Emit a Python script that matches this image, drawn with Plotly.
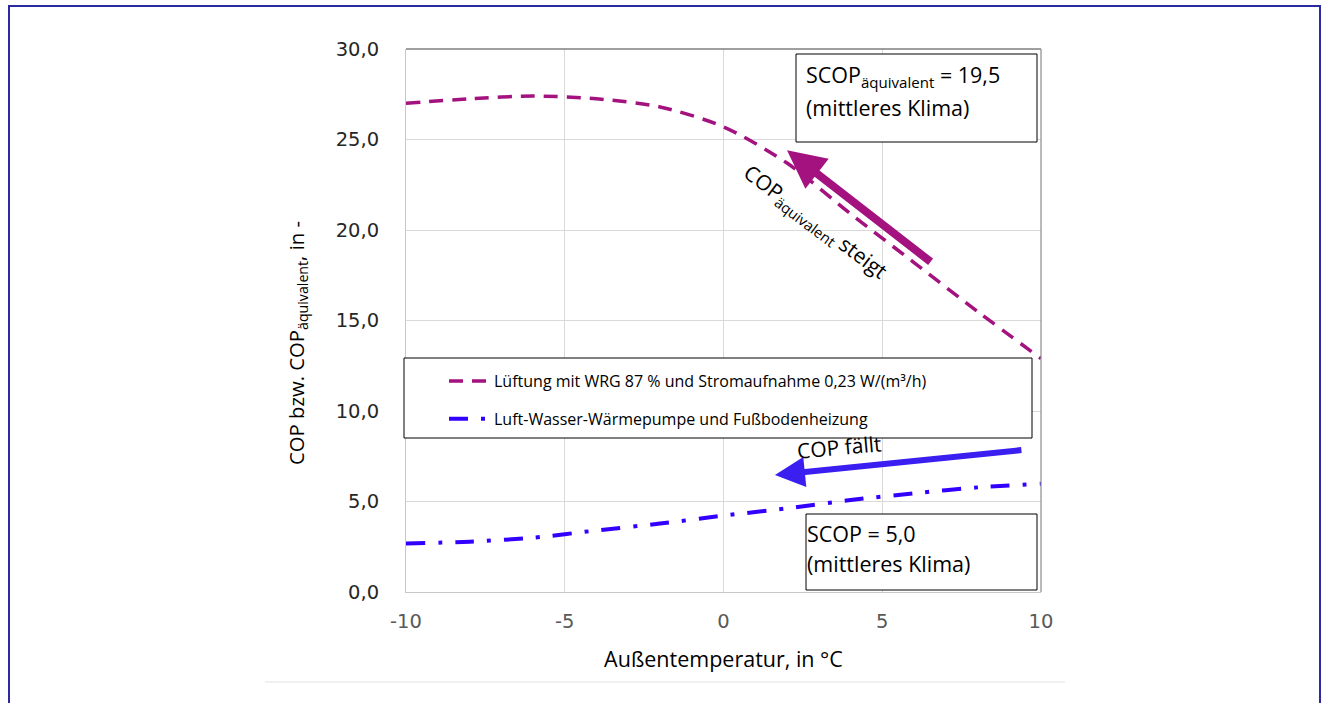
import plotly.graph_objects as go

# ---- data ----
temps = [-10, -8, -6, -4, -2, 0, 2, 4, 6, 8, 10]
cop_lueftung = [27.0, 27.25, 27.4, 27.25, 26.8, 25.7, 23.7, 20.9, 18.2, 15.5, 12.9]
cop_wp = [2.68, 2.78, 3.0, 3.4, 3.78, 4.22, 4.62, 5.08, 5.45, 5.78, 5.98]

name_lueftung = "Lüftung mit WRG 87 % und Stromaufnahme 0,23 W/(m³/h)"
name_wp = "Luft-Wasser-Wärmepumpe und Fußbodenheizung"

x_ticks = [-10, -5, 0, 5, 10]
y_ticks = [0, 5, 10, 15, 20, 25, 30]
y_ticklabels = ["0,0", "5,0", "10,0", "15,0", "20,0", "25,0", "30,0"]

PINK = "#a3127f"
BLUE = "#3300ff"
BLUE_ARROW = "#3a1ff0"
TXT_FONT = "Open Sans, sans-serif"
TICK_FONT = "DejaVu Sans, sans-serif"

fig = go.Figure()
fig.add_trace(go.Scatter(
    x=temps, y=cop_lueftung, mode="lines", name=name_lueftung,
    line=dict(color=PINK, width=3.5, dash="14px,9px", shape="spline", smoothing=0.8),
    legendgroup="a",
))
fig.add_trace(go.Scatter(
    x=temps, y=cop_wp, mode="lines", name=name_wp,
    line=dict(color=BLUE, width=4, dash="19px,13px,4px,13px", shape="spline", smoothing=0.8),
    legendgroup="b",
))

L, R, T, B = 406, 1041, 49, 592
W, H = 1325, 703
pw, ph = R - L, B - T


def px2paper_x(px):
    return (px - L) / pw


def px2paper_y(py):
    return (B - py) / ph


shapes = [
    # outer frame
    dict(type="rect", xref="paper", yref="paper",
         x0=px2paper_x(9), x1=px2paper_x(1320), y0=px2paper_y(710), y1=px2paper_y(6),
         line=dict(color="#2a2aa0", width=2), layer="below"),
    # faint line below chart area
    dict(type="line", xref="paper", yref="paper",
         x0=px2paper_x(265), x1=px2paper_x(1065), y0=px2paper_y(682), y1=px2paper_y(682),
         line=dict(color="#e3e3e3", width=1)),
    # plot area top / right border
    dict(type="line", xref="paper", yref="paper", x0=0, x1=1, y0=1, y1=1,
         line=dict(color="#404040", width=1.2)),
    dict(type="line", xref="paper", yref="paper", x0=1, x1=1, y0=0, y1=1,
         line=dict(color="#8c8c8c", width=1.2)),
    # text boxes
    dict(type="rect", xref="paper", yref="paper",
         x0=px2paper_x(796), x1=px2paper_x(1037), y0=px2paper_y(142), y1=px2paper_y(54),
         line=dict(color="#000000", width=1), fillcolor="white"),
    dict(type="rect", xref="paper", yref="paper",
         x0=px2paper_x(806), x1=px2paper_x(1037), y0=px2paper_y(590), y1=px2paper_y(514),
         line=dict(color="#000000", width=1), fillcolor="white"),
    # legend box
    dict(type="rect", xref="paper", yref="paper",
         x0=px2paper_x(404), x1=px2paper_x(1032), y0=px2paper_y(438), y1=px2paper_y(358),
         line=dict(color="#000000", width=1), fillcolor="white"),
]

BOX_FONT = dict(family=TXT_FONT, size=21.5, color="#000")
annotations = [
    dict(xref="paper", yref="paper", x=px2paper_x(804), y=px2paper_y(76),
         xanchor="left", yanchor="middle", align="left", showarrow=False,
         text="SCOP<sub>äquivalent</sub> = 19,5", font=BOX_FONT),
    dict(xref="paper", yref="paper", x=px2paper_x(804), y=px2paper_y(108),
         xanchor="left", yanchor="middle", align="left", showarrow=False,
         text="(mittleres Klima)", font=BOX_FONT),
    dict(xref="paper", yref="paper", x=px2paper_x(805), y=px2paper_y(533),
         xanchor="left", yanchor="middle", align="left", showarrow=False,
         text="SCOP = 5,0", font=BOX_FONT),
    dict(xref="paper", yref="paper", x=px2paper_x(805), y=px2paper_y(563),
         xanchor="left", yanchor="middle", align="left", showarrow=False,
         text="(mittleres Klima)", font=BOX_FONT),
    # arrows
    dict(xref="x", yref="y", axref="x", ayref="y",
         x=2.0, y=24.4, ax=6.57, ay=18.18, text="", showarrow=True,
         arrowhead=2, arrowsize=0.95, arrowwidth=8, arrowcolor=PINK),
    dict(xref="x", yref="y", axref="x", ayref="y",
         x=1.62, y=6.46, ax=9.43, ay=7.85, text="", showarrow=True,
         arrowhead=2, arrowsize=1.0, arrowwidth=6, arrowcolor=BLUE_ARROW),
    # rotated labels
    dict(xref="paper", yref="paper", x=px2paper_x(815), y=px2paper_y(222),
         xanchor="center", yanchor="middle",
         text="COP<sub>äquivalent</sub> steigt", textangle=37, showarrow=False,
         font=dict(family=TXT_FONT, size=21, color="#000")),
    dict(xref="paper", yref="paper", x=px2paper_x(839), y=px2paper_y(447),
         xanchor="center", yanchor="middle",
         text="COP fällt", textangle=-5, showarrow=False,
         font=dict(family=TXT_FONT, size=21, color="#000")),
    # y-axis title
    dict(xref="paper", yref="paper", x=px2paper_x(297), y=px2paper_y(343),
         xanchor="center", yanchor="middle",
         text="COP bzw. COP<sub>äquivalent</sub>, in -", textangle=-90, showarrow=False,
         font=dict(family=TXT_FONT, size=20.3, color="#000")),
]

fig.update_layout(
    width=W, height=H,
    margin=dict(l=L, r=W - R, t=T, b=H - B, pad=0),
    paper_bgcolor="white", plot_bgcolor="white",
    shapes=shapes, annotations=annotations,
    showlegend=True,
    legend=dict(x=px2paper_x(444), y=px2paper_y(364), xanchor="left", yanchor="top",
                bgcolor="rgba(0,0,0,0)", borderwidth=0, tracegroupgap=14,
                font=dict(family=TXT_FONT, size=16, color="#000"),
                itemwidth=40),
    xaxis=dict(range=[-10, 10], tickvals=x_ticks, ticktext=[str(v) for v in x_ticks],
               showgrid=True, gridcolor="#d9d9d9", gridwidth=1,
               showline=True, linecolor="#c8c8c8", linewidth=1, zeroline=False,
               ticks="", ticklabelstandoff=12,
               tickfont=dict(family=TICK_FONT, size=19.5, color="#595959"),
               title=dict(text="Außentemperatur, in °C", standoff=19,
                          font=dict(family=TXT_FONT, size=21.5, color="#000"))),
    yaxis=dict(range=[0, 30], tickvals=y_ticks, ticktext=y_ticklabels,
               showgrid=True, gridcolor="#d9d9d9", gridwidth=1,
               showline=True, linecolor="#c8c8c8", linewidth=1, zeroline=False,
               ticks="", ticklabelstandoff=22,
               tickfont=dict(family=TICK_FONT, size=19.5, color="#262626")),
)

fig.write_html("out.html", config={"displayModeBar": False},
               post_script="document.body.style.margin='0';")
